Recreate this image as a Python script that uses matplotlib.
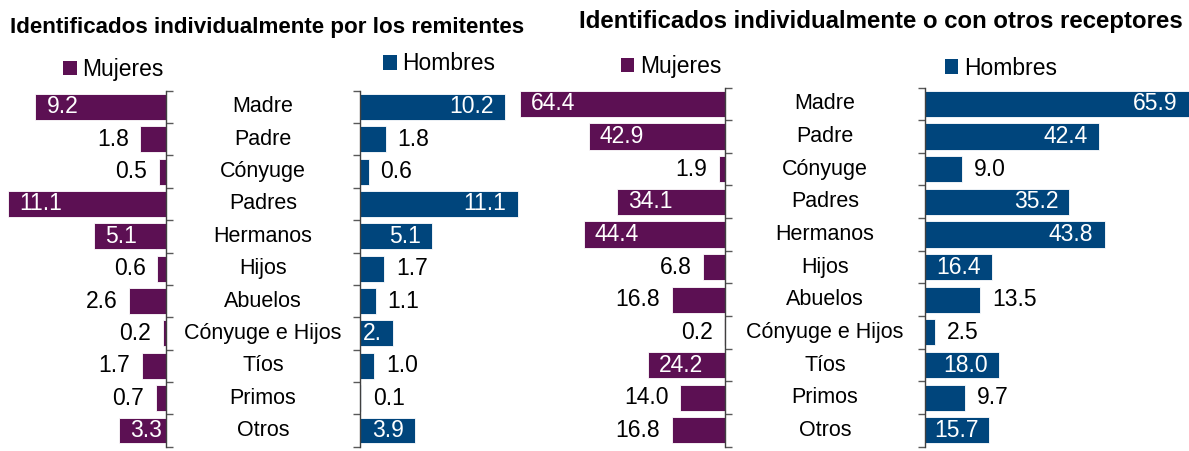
import matplotlib.pyplot as plt
from matplotlib.patches import Patch
from matplotlib.transforms import blended_transform_factory

plt.rcParams['font.family'] = ['Liberation Sans', 'DejaVu Sans']

categorias = ['Madre', 'Padre', 'Cónyuge', 'Padres', 'Hermanos', 'Hijos',
              'Abuelos', 'Cónyuge e Hijos', 'Tíos', 'Primos', 'Otros']

rem_mujeres = [9.2, 1.8, 0.5, 11.1, 5.1, 0.6, 2.6, 0.2, 1.7, 0.7, 3.3]
rem_hombres = [10.2, 1.8, 0.6, 11.1, 5.1, 1.7, 1.1, 2.3, 1.0, 0.1, 3.9]
rem_hombres_txt = ['10.2', '1.8', '0.6', '11.1', '5.1', '1.7', '1.1', '2.', '1.0', '0.1', '3.9']
rec_mujeres = [64.4, 42.9, 1.9, 34.1, 44.4, 6.8, 16.8, 0.2, 24.2, 14.0, 16.8]
rec_hombres = [65.9, 42.4, 9.0, 35.2, 43.8, 16.4, 13.5, 2.5, 18.0, 9.7, 15.7]

# which labels sit inside the bar
rem_mujeres_in = [1, 0, 0, 1, 1, 0, 0, 0, 0, 0, 1]
rem_hombres_in = [1, 0, 0, 1, 1, 0, 0, 1, 0, 0, 1]
rec_mujeres_in = [1, 1, 0, 1, 1, 0, 0, 0, 1, 0, 0]
rec_hombres_in = [1, 1, 0, 1, 1, 1, 0, 0, 1, 0, 1]

MORADO = '#5C1053'
AZUL = '#00457C'
W, H = 1189, 451

fig = plt.figure(figsize=(W / 100, H / 100), dpi=100)


def px_axes(x0, x1, y0, y1):
    return fig.add_axes([x0 / W, 1 - y1 / H, (x1 - x0) / W, (y1 - y0) / H])


def panel(ax, vals, txts, inside, color, xmax, mujeres):
    n = len(vals)
    ys = list(range(n))
    ax.barh(ys, vals, height=0.8, color=color, edgecolor='white', linewidth=0.6)
    ax.set_ylim(n - 0.5, -0.5)
    if mujeres:
        ax.set_xlim(xmax, 0)
        ax.yaxis.tick_right()
        keep = 'right'
    else:
        ax.set_xlim(0, xmax)
        keep = 'left'
    for s in ['left', 'right', 'top', 'bottom']:
        ax.spines[s].set_visible(s == keep)
    ax.spines[keep].set_color('#404040')
    ax.spines[keep].set_linewidth(1.0)
    ax.set_xticks([])
    ax.set_yticks([i - 0.5 for i in range(n + 1)])
    ax.set_yticklabels([])
    ax.tick_params(axis='y', length=5, width=1.0, color='#595959', direction='out')
    ax.patch.set_visible(False)
    for y, v, t, ins in zip(ys, vals, txts, inside):
        sign = 1 if mujeres else -1
        if ins:
            off, ha, c = 8 * sign, ('left' if mujeres else 'right'), 'white'
        else:
            off, ha, c = -8.5 * sign, ('right' if mujeres else 'left'), 'black'
        ax.annotate(t, (min(v, xmax), y), xytext=(off, 0), textcoords='offset points',
                    ha=ha, va='center', fontsize=16.5, color=c, annotation_clip=False)


fmt = lambda vals: ['%.1f' % v for v in vals]

ax1 = px_axes(0, 166, 90.7, 446.7)
panel(ax1, rem_mujeres, fmt(rem_mujeres), rem_mujeres_in, MORADO, 166 / 14.2, True)
ax2 = px_axes(360, 530, 90.7, 446.7)
panel(ax2, rem_hombres, rem_hombres_txt, rem_hombres_in, AZUL, 170 / 14.2, False)
ax3 = px_axes(515, 725, 87.5, 446.7)
panel(ax3, rec_mujeres, fmt(rec_mujeres), rec_mujeres_in, MORADO, 210 / 3.18, True)
ax4 = px_axes(925, 1189, 87.5, 446.7)
panel(ax4, rec_hombres, fmt(rec_hombres), rec_hombres_in, AZUL, 264 / 4.1, False)

# category names between the panels
for ax, xc in [(ax2, 263), (ax4, 825)]:
    tr = blended_transform_factory(fig.transFigure, ax.transData)
    for i, c in enumerate(categorias):
        ax.text(xc / W, i, c, transform=tr, ha='center', va='center', fontsize=15.5)

# legends
for ax, lab, col, x, y in [(ax1, 'Mujeres', MORADO, 63, 69.7), (ax2, 'Hombres', AZUL, 383, 64),
                           (ax3, 'Mujeres', MORADO, 620.5, 66.7), (ax4, 'Hombres', AZUL, 944.5, 68.3)]:
    ax.legend(handles=[Patch(facecolor=col, label=lab)], loc='center left',
              bbox_to_anchor=(x / W, 1 - y / H), bbox_transform=fig.transFigure,
              frameon=False, fontsize=16.5, handlelength=0.6, handleheight=0.6,
              handletextpad=0.25, borderpad=0, borderaxespad=0)

fig.text(10 / W, 1 - 33.3 / H, 'Identificados individualmente por los remitentes',
         fontsize=16.1, fontweight='bold', va='baseline', ha='left')
fig.text(579 / W, 1 - 28.3 / H, 'Identificados individualmente o con otros receptores',
         fontsize=17.3, fontweight='bold', va='baseline', ha='left')

fig.savefig('out.png', dpi=100)
